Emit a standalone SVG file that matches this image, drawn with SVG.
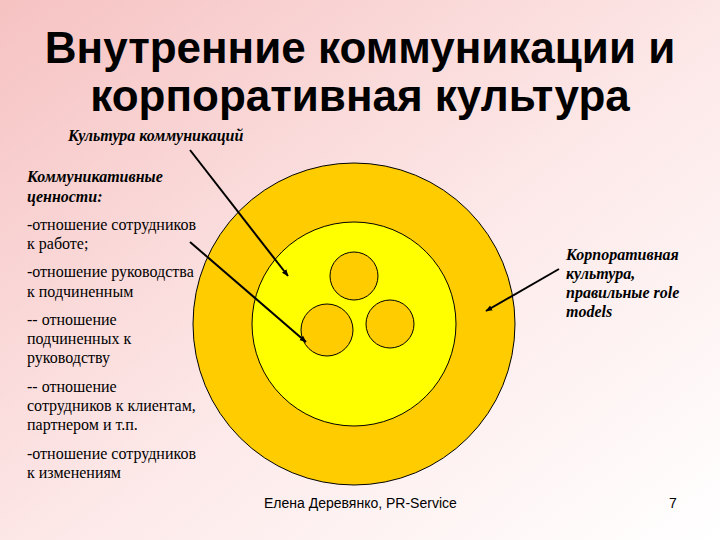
<svg xmlns="http://www.w3.org/2000/svg" width="720" height="540" viewBox="0 0 720 540">
<defs>
<linearGradient id="bg" x1="0" y1="0" x2="1" y2="1">
<stop offset="0" stop-color="#f6c2c2"/>
<stop offset="0.55" stop-color="#fde9e9"/>
<stop offset="1" stop-color="#ffffff"/>
</linearGradient>
<marker id="ah" viewBox="0 0 10 10" refX="9" refY="5" markerWidth="7" markerHeight="7" orient="auto" markerUnits="userSpaceOnUse">
<path d="M0,1 L10,5 L0,9 z" fill="#000"/>
</marker>
<style>
.title{font-family:"Liberation Sans",Arial,sans-serif;font-weight:bold;font-size:44px;fill:#000;text-anchor:middle}
.t{font-family:"Liberation Serif","Times New Roman",serif;font-size:16px;fill:#000}
.bi{font-weight:bold;font-style:italic}
.ring{stroke:#000;stroke-width:1}
.ft{font-family:"Liberation Sans",Arial,sans-serif;font-size:14px;fill:#000}
.conn{stroke:#000;stroke-width:2;fill:none;marker-end:url(#ah)}
</style>
</defs>
<rect width="720" height="540" fill="url(#bg)"/>
<g id="title">
<text class="title" x="360" y="63">Внутренние коммуникации и</text>
<text class="title" x="360" y="111">корпоративная культура</text>
</g>
<g id="outer-circle"><circle class="ring" cx="354" cy="324" r="161" fill="#ffcc00"/></g>
<g id="inner-circle"><circle class="ring" cx="354" cy="324" r="102" fill="#ffff00"/></g>
<g id="small-circle-top"><circle class="ring" cx="354" cy="276" r="24" fill="#ffcc00"/></g>
<g id="small-circle-left"><circle class="ring" cx="327" cy="330" r="26" fill="#ffcc00"/></g>
<g id="small-circle-right"><circle class="ring" cx="390" cy="324" r="24" fill="#ffcc00"/></g>
<g id="label-culture-comm">
<text class="t bi" x="68" y="141">Культура коммуникаций</text>
</g>
<g id="label-values">
<text class="t bi" x="27" y="182">Коммуникативные</text>
<text class="t bi" x="27" y="202">ценности:</text>
<text class="t" x="27" y="230">-отношение сотрудников</text>
<text class="t" x="27" y="249">к работе;</text>
<text class="t" x="27" y="277">-отношение руководства</text>
<text class="t" x="27" y="297">к подчиненным</text>
<text class="t" x="27" y="325">-- отношение</text>
<text class="t" x="27" y="344">подчиненных к</text>
<text class="t" x="27" y="363">руководству</text>
<text class="t" x="27" y="392">-- отношение</text>
<text class="t" x="27" y="411">сотрудников к клиентам,</text>
<text class="t" x="27" y="430">партнером и т.п.</text>
<text class="t" x="27" y="459">-отношение сотрудников</text>
<text class="t" x="27" y="478">к изменениям</text>
</g>
<g id="label-corporate">
<text class="t bi" x="566" y="260">Корпоративная</text>
<text class="t bi" x="566" y="279">культура,</text>
<text class="t bi" x="566" y="298">правильные role</text>
<text class="t bi" x="566" y="317">models</text>
</g>
<g id="connectors">
<line class="conn" x1="190" y1="150" x2="288" y2="276"/>
<line class="conn" x1="190" y1="242" x2="306" y2="342"/>
<line class="conn" x1="559" y1="269" x2="486" y2="311"/>
</g>
<g id="footer">
<text class="ft" x="264" y="508">Елена Деревянко, PR-Service</text>
<text class="ft" x="669" y="508">7</text>
</g>
</svg>
